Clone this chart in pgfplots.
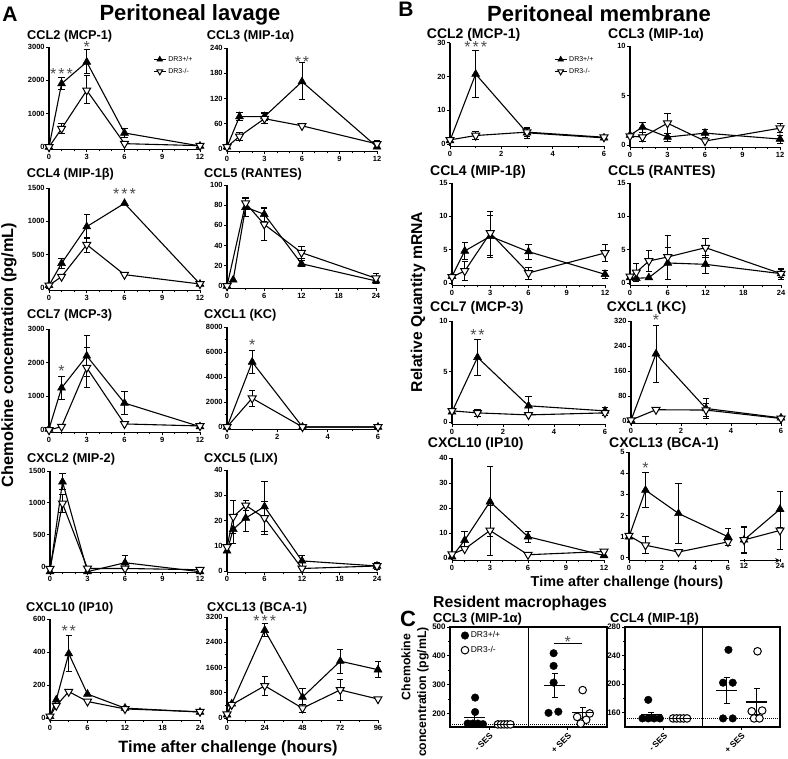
\documentclass[border=0pt]{standalone}
\usepackage{fontspec}
\setmainfont{Liberation Sans}
\usepackage{pgfplots}
\pgfplotsset{compat=1.18}
\pgfplotsset{
 tp/.style={scale only axis, axis lines=left, axis line style={-, line width=1.1pt},
  tick align=outside, major tick length=3pt, minor tick length=1.8pt,
  tick style={black, line width=0.9pt},
  tick label style={font=\bfseries\fontsize{7.5}{8}\selectfont, inner sep=1.2pt},
  /pgf/number format/assume math mode=true, /pgf/number format/1000 sep={},
  scaled ticks=false, clip=false, anchor=south west,
  legend image code/.code={\draw[mark repeat=2, mark phase=2, #1, mark size=3.3pt] plot coordinates {(0pt,0pt) (6pt,0pt) (12pt,0pt)};},
  legend cell align=left},
 F/.style={black, line width=1.1pt, mark=triangle*, mark size=4.6pt, mark options={fill=black, line width=0.5pt},
   error bars/.cd, y dir=both, y explicit, error bar style={line width=0.9pt}, error mark options={rotate=90, line width=0.9pt, mark size=3.2pt}},
 O/.style={black, line width=1.1pt, mark=triangle*, mark size=4.6pt, mark options={fill=white, rotate=180, line width=1pt},
   error bars/.cd, y dir=both, y explicit, error bar style={line width=0.9pt}, error mark options={rotate=90, line width=0.9pt, mark size=3.2pt}},
 lg/.style={legend style={draw=none, fill=none, at={#1}, anchor=north west, inner sep=0pt, font=\fontsize{7}{8}\selectfont, row sep=1.5pt}},
}
\newcommand{\sx}{\hspace{2pt}}
\newcommand{\st}[3]{\node[anchor=base, yshift=-9.6pt, font=\fontsize{16}{16}\selectfont, text=black!70, inner sep=0pt] at (axis cs:#1,#2) {#3};}
\newcommand{\ttl}[4]{\node[anchor=base west, inner sep=0pt, font=\bfseries\fontsize{#3}{#3}\selectfont] at (#1pt,#2pt) {#4};}
\begin{document}
\begin{tikzpicture}
\useasboundingbox (0pt,0pt) rectangle (788pt,759pt);
% ---------------- headings
\node[anchor=base, inner sep=0pt, font=\bfseries\fontsize{21}{21}\selectfont] at (10pt,737.3pt) {A};
\node[anchor=base, inner sep=0pt, font=\bfseries\fontsize{22}{22}\selectfont] at (190pt,738.3pt) {Peritoneal lavage};
\node[anchor=base, inner sep=0pt, font=\bfseries\fontsize{21}{21}\selectfont] at (406pt,742.3pt) {B};
\node[anchor=base, inner sep=0pt, font=\bfseries\fontsize{22}{22}\selectfont] at (599pt,737.3pt) {Peritoneal membrane};
\node[anchor=base west, inner sep=0pt, font=\bfseries\fontsize{22}{22}\selectfont] at (400pt,132pt) {C};
\ttl{433}{151.7}{15.8}{Resident macrophages}
\node[rotate=90, inner sep=0pt, font=\bfseries\fontsize{16.3}{16.3}\selectfont] at (9pt,404pt) {Chemokine concentration (pg/mL)};
\node[rotate=90, inner sep=0pt, font=\bfseries\fontsize{15.7}{15.7}\selectfont] at (418pt,457pt) {Relative Quantity mRNA};
\node[anchor=base, inner sep=0pt, font=\bfseries\fontsize{16.4}{16.4}\selectfont] at (228pt,6pt) {Time after challenge (hours)};
\node[anchor=base, inner sep=0pt, font=\bfseries\fontsize{14.4}{14.4}\selectfont] at (627pt,172.3pt) {Time after challenge (hours)};
\node[rotate=90, inner sep=0pt, font=\bfseries\fontsize{12.3}{12.3}\selectfont] at (406pt,92pt) {Chemokine};
\node[rotate=90, inner sep=0pt, font=\bfseries\fontsize{12.3}{12.3}\selectfont] at (423pt,67pt) {concentration (pg/mL)};
% titles
\ttl{27}{719}{12.75}{CCL2 (MCP-1)}
\ttl{206.7}{719}{12.75}{CCL3 (MIP-1α)}
\ttl{26.7}{581}{12.75}{CCL4 (MIP-1β)}
\ttl{204}{581}{12.75}{CCL5 (RANTES)}
\ttl{27}{440}{12.75}{CCL7 (MCP-3)}
\ttl{204}{440}{12.75}{CXCL1 (KC)}
\ttl{27}{296}{12.75}{CXCL2 (MIP-2)}
\ttl{204}{296}{12.75}{CXCL5 (LIX)}
\ttl{26}{147}{12.75}{CXCL10 (IP10)}
\ttl{207}{147}{12.75}{CXCL13 (BCA-1)}
\ttl{426.7}{720.7}{14}{CCL2 (MCP-1)}
\ttl{608}{720.7}{14}{CCL3 (MIP-1α)}
\ttl{430}{583.3}{14}{CCL4 (MIP-1β)}
\ttl{608}{583.3}{14}{CCL5 (RANTES)}
\ttl{430}{447.3}{14}{CCL7 (MCP-3)}
\ttl{606.7}{447.3}{14}{CXCL1 (KC)}
\ttl{427.7}{311.5}{14}{CXCL10 (IP10)}
\ttl{609}{311.5}{14}{CXCL13 (BCA-1)}
\ttl{433}{136}{13}{CCL3 (MIP-1α)}
\ttl{610}{136}{13}{CCL4 (MIP-1β)}
% ================= PANEL A
\begin{axis}[tp, at={(49pt,609.5pt)}, width=151pt, height=102.5pt, xmin=0, xmax=12, ymin=-75, ymax=3000,
  xtick={0,3,6,9,12}, minor x tick num=2, ytick={0,1000,2000,3000}, lg={(0.689,0.932)}]
\addplot[F] coordinates {(0,0) (1,1900) +- (0,180) (3,2550) += (0,370) -= (0,350) (6,420) +- (0,140) (12,30)};
\addlegendentry{DR3+/+}
\addplot[O] coordinates {(0,0) (1,550) +- (0,150) (3,1700) += (0,450) -= (0,400) (6,100) (12,40)};
\addlegendentry{DR3-/-}
\st{1}{2300}{*\sx*\sx*}\st{3}{3120}{*}
\end{axis}
\begin{axis}[tp, at={(227pt,607.5pt)}, width=150pt, height=103.5pt, xmin=0, xmax=12, ymin=-6, ymax=240,
  xtick={0,3,6,9,12}, minor x tick num=2, ytick={0,60,120,180,240}]
\addplot[F] coordinates {(0,5) (1,77) +- (0,9) (3,77) +- (0,10) (6,160) += (0,45) -= (0,43) (12,5)};
\addplot[O] coordinates {(0,5) (1,30) +- (0,10) (3,72) +- (0,12) (6,55) (12,12) +- (0,8)};
\st{6}{216}{*\sx*}
\end{axis}
\begin{axis}[tp, at={(49pt,468.5pt)}, width=151pt, height=102.5pt, xmin=0, xmax=12, ymin=-37.5, ymax=1500,
  xtick={0,3,6,9,12}, minor x tick num=2, ytick={0,500,1000,1500}]
\addplot[F] coordinates {(0,40) (1,370) +- (0,75) (3,920) +- (0,180) (6,1270) (12,60)};
\addplot[O] coordinates {(0,40) (1,170) (3,650) +- (0,110) (6,200) (12,60)};
\st{6}{1470}{*\sx*\sx*}
\end{axis}
\begin{axis}[tp, at={(227pt,470.5pt)}, width=149pt, height=103.5pt, xmin=0, xmax=24, ymin=-2.5, ymax=100,
  xtick={0,6,12,18,24}, minor x tick num=1, ytick={0,20,40,60,80,100}]
\addplot[F] coordinates {(0,0) (1,6) (3,78) +- (0,9) (6,71) +- (0,7) (12,22) +- (0,3) (24,5)};
\addplot[O] coordinates {(0,0) (3,82) +- (0,6) (6,61) +- (0,16) (12,33) +- (0,6) (24,7.6) +- (0,5)};
\end{axis}
\begin{axis}[tp, at={(49pt,326.5pt)}, width=151pt, height=103.5pt, xmin=0, xmax=12, ymin=-74, ymax=3000,
  xtick={0,3,6,9,12}, minor x tick num=2, ytick={0,1000,2000,3000}]
\addplot[F] coordinates {(0,30) (1,1250) +- (0,350) (3,2200) +- (0,620) (6,800) +- (0,340) (12,100)};
\addplot[O] coordinates {(0,0) (1,100) (3,1850) +- (0,590) (6,180) (12,120)};
\st{1}{1880}{*}
\end{axis}
\begin{axis}[tp, at={(227pt,329.5pt)}, width=151pt, height=102.5pt, xmin=0, xmax=6, ymin=-200, ymax=8000,
  xtick={0,2,4,6}, minor x tick num=1, ytick={0,2000,4000,6000,8000}, minor y tick num=1]
\addplot[F] coordinates {(0,0) (1,5200) +- (0,950) (3,0) (6,0)};
\addplot[O] coordinates {(0,0) (1,2300) +- (0,620) (3,0) (6,0)};
\st{1}{6850}{*}
\end{axis}
\begin{axis}[tp, at={(50pt,186.7pt)}, width=150pt, height=101.3pt, xmin=0, xmax=12, ymin=-90, ymax=1500,
  xtick={0,3,6,9,12}, minor x tick num=2, ytick={0,500,1000,1500}]
\addplot[F] coordinates {(0,-80) (1,1330) +- (0,125) (3,-80) (6,60) +- (0,110) (12,-80)};
\addplot[O] coordinates {(0,-35) (1,990) +- (0,140) (3,-30) (6,-30) (12,-50)};
\end{axis}
\begin{axis}[tp, at={(227pt,186.7pt)}, width=150pt, height=102.3pt, xmin=0, xmax=24, ymin=-0.5, ymax=40,
  xtick={0,6,12,18,24}, minor x tick num=1, ytick={0,10,20,30,40}]
\addplot[F] coordinates {(0,8) (1,16.5) +- (0,5.5) (3,21) +- (0,5.5) (6,25.5) +- (0,10) (12,4) +- (0,2.3) (24,2)};
\addplot[O] coordinates {(0,9.5) (1,21.5) +- (0,6.5) (3,26) +- (0,2) (6,21) +- (0,6.5) (12,1) (24,2) +- (0,1.3)};
\end{axis}
\begin{axis}[tp, at={(50pt,38.5pt)}, width=150pt, height=101.5pt, xmin=0, xmax=24, ymin=-15, ymax=600,
  xtick={0,6,12,18,24}, minor x tick num=1, ytick={0,200,400,600}]
\addplot[F] coordinates {(0,10) (1,110) (3,390) +- (0,110) (6,145) (12,60) (24,36)};
\addplot[O] coordinates {(0,10) (1,75) (3,160) (6,100) (12,55) (24,38)};
\st{3}{553}{*\sx*}
\end{axis}
\begin{axis}[tp, at={(227pt,38.5pt)}, width=151pt, height=103.5pt, xmin=0, xmax=96, ymin=-79, ymax=3200,
  xtick={0,24,48,72,96}, minor x tick num=1, ytick={0,800,1600,2400,3200}, minor y tick num=1]
\addplot[F] coordinates {(0,100) (3,450) (24,2780) +- (0,200) (48,660) +- (0,280) (72,1800) +- (0,380) (96,1530) +- (0,260)};
\addplot[O] coordinates {(0,120) (3,420) (24,1020) +- (0,310) (48,310) +- (0,120) (72,890) +- (0,330) (96,600)};
\st{24}{3190}{*\sx*\sx*}
\end{axis}
% ================= PANEL B
\begin{axis}[tp, at={(450pt,612.5pt)}, width=154pt, height=103.8pt, xmin=0, xmax=6, ymin=-0.75, ymax=30,
  xtick={0,2,4,6}, minor x tick num=1, ytick={0,10,20,30}, lg={(0.675,0.891)}]
\addplot[F] coordinates {(0,1) (1,20.7) +- (0,6.9) (3,3.3) +- (0,1.6) (6,1.8)};
\addlegendentry{DR3+/+}
\addplot[O] coordinates {(0,1.2) (1,2.5) +- (0,1.3) (3,3.5) +- (0,1.2) (6,2) +- (0,0.5)};
\addlegendentry{DR3-/-}
\st{1}{29.8}{*\sx*\sx*}
\end{axis}
\begin{axis}[tp, at={(630pt,611.5pt)}, width=150pt, height=101.5pt, xmin=0, xmax=12, ymin=-0.25, ymax=10,
  xtick={0,3,6,9,12}, minor x tick num=2, ytick={0,5,10}]
\addplot[F] coordinates {(0,1) (1,1.8) +- (0,0.5) (3,0.8) +- (0,0.4) (6,1.2) +- (0,0.4) (12,0.6) +- (0,0.4)};
\addplot[O] coordinates {(0,0.9) (1,0.8) +- (0,0.45) (3,2.2) +- (0,1) (6,0.4) (12,1.7) +- (0,0.45)};
\end{axis}
\begin{axis}[tp, at={(452pt,473.5pt)}, width=153pt, height=102.5pt, xmin=0, xmax=12, ymin=-0.375, ymax=15,
  xtick={0,3,6,9,12}, minor x tick num=2, ytick={0,5,10,15}]
\addplot[F] coordinates {(0,1) (1,4.8) +- (0,1.3) (3,7) +- (0,3.2) (6,4.7) +- (0,1.1) (12,1.3) +- (0,0.6)};
\addplot[O] coordinates {(0,0.9) (1,1.8) +- (0,1.4) (3,7.5) +- (0,3.3) (6,1.5) +- (0,0.9) (12,4.5) +- (0,1.3)};
\end{axis}
\begin{axis}[tp, at={(630pt,473.5pt)}, width=151pt, height=102.5pt, xmin=0, xmax=24, ymin=-0.375, ymax=15,
  xtick={0,6,12,18,24}, minor x tick num=1, ytick={0,5,10,15}]
\addplot[F] coordinates {(0,0.8) (1,0.7) (3,0.8) (6,3) +- (0,2.4) (12,2.8) +- (0,1.3) (24,1.4) +- (0,0.6)};
\addplot[O] coordinates {(0,1) (1,1.6) +- (0,1.3) (3,3.3) +- (0,1.6) (6,3.9) +- (0,3.3) (12,5.3) +- (0,1.4) (24,1.4) +- (0,0.8)};
\end{axis}
\begin{axis}[tp, at={(452pt,334.5pt)}, width=153pt, height=103.5pt, xmin=0, xmax=6, ymin=-0.25, ymax=10,
  xtick={0,2,4,6}, minor x tick num=1, ytick={0,5,10}]
\addplot[F] coordinates {(0,1) (1,6.4) +- (0,1.8) (3,1.6) +- (0,0.9) (6,1.1) +- (0,0.3)};
\addplot[O] coordinates {(0,1.1) (1,0.9) +- (0,0.35) (3,0.7) (6,0.9) +- (0,0.25)};
\st{1}{9.0}{*\sx*}
\end{axis}
\begin{axis}[tp, at={(631pt,335.5pt)}, width=150pt, height=102.5pt, xmin=0, xmax=6, ymin=-8, ymax=320,
  xtick={0,2,4,6}, minor x tick num=1, ytick={0,80,160,240,320}]
\addplot[F] coordinates {(0,2) (1,215) +- (0,92) (3,40) +- (0,32) (6,10)};
\addplot[O] coordinates {(0,3) (1,36) (3,35) +- (0,22) (6,8)};
\st{1}{336}{*}
\end{axis}
\begin{axis}[tp, at={(452pt,198.5pt)}, width=152pt, height=102.5pt, xmin=0, xmax=12, ymin=-1, ymax=40,
  xtick={0,3,6,9,12}, minor x tick num=2, ytick={0,10,20,30,40}]
\addplot[F] coordinates {(0,0.5) (1,7.1) +- (0,3.4) (3,22.5) +- (0,14) (6,8.5) +- (0,2.2) (12,1)};
\addplot[O] coordinates {(0,1.5) (1,3.6) (3,11) +- (0,10) (6,1.3) (12,2.6)};
\end{axis}
\begin{axis}[tp, at={(629pt,198.5pt)}, width=99pt, height=108.5pt, xmin=0, xmax=6, ymin=-0.12, ymax=5,
  xtick={0,2,4,6}, minor x tick num=1, ytick={0,1,2,3,4,5}]
\addplot[F] coordinates {(0,1) (1,3.2) +- (0,0.82) (3,2.1) +- (0,1.4) (6,1.0) +- (0,0.4)};
\addplot[O] coordinates {(0,1.05) (1,0.6) +- (0,0.4) (3,0.28) (6,0.76) +- (0,0.15)};
\st{1}{4.45}{*}
\end{axis}
\begin{axis}[tp, axis x line=bottom, axis y line=none, at={(740pt,198.5pt)}, width=40pt, height=108.5pt, xmin=10.67, xmax=24, ymin=-0.12, ymax=5,
  xtick={12,24}, ytick=\empty]
\addplot[F] coordinates {(12,0.85) +- (0,0.6) (24,2.3) +- (0,0.85)};
\addplot[O] coordinates {(12,0.85) +- (0,0.65) (24,1.3) +- (0,0.9)};
\end{axis}
% ================= PANEL C
\pgfplotsset{
 cp/.style={scale only axis, axis lines=box, axis line style={line width=1.1pt}, tick align=outside,
  major tick length=3pt, minor tick length=1.8pt, tick style={black, line width=0.9pt},
  xtick pos=bottom, ytick pos=left, clip=false, anchor=south west,
  tick label style={font=\bfseries\fontsize{8}{9}\selectfont, inner sep=1.2pt},
  /pgf/number format/assume math mode=true, xmin=0, xmax=4, xtick={1,3}, xticklabels={- SES,+ SES},
  x tick label style={rotate=45, anchor=north east, font=\bfseries\fontsize{8.5}{9}\selectfont},
  minor y tick num=1},
 mm/.style={black, only marks, mark=-, mark size=10.5pt, mark options={line width=1.1pt},
   error bars/.cd, y dir=both, y explicit, error bar style={line width=0.9pt}, error mark options={rotate=90, line width=0.9pt, mark size=3pt}},
}
\begin{axis}[cp, at={(450pt,32pt)}, width=157pt, height=100pt, ymin=153, ymax=500, ytick={200,300,400,500},
  legend style={draw=none, fill=none, at={(0.07,0.975)}, anchor=north west, inner sep=0pt, font=\fontsize{8.5}{9}\selectfont, row sep=3pt},
  legend image code/.code={\draw[#1] plot coordinates {(4pt,0pt)};}, legend cell align=left]
\addplot[black, only marks, mark=*, mark size=3.8pt] coordinates {(0.64,255) (0.64,205) (0.45,165) (0.58,165) (0.71,165) (0.84,163) (2.64,409) (2.64,365) (2.64,307) (2.51,202) (2.76,206)};
\addlegendentry{DR3+/+}
\addplot[black, only marks, mark=*, mark size=3.8pt, mark options={fill=white, line width=1pt}] coordinates {(1.22,162) (1.3,162) (1.38,162) (1.46,162) (1.54,162) (3.38,281) (3.56,200) (3.24,188) (3.47,178) (3.33,165)};
\addlegendentry{DR3-/-}
\addplot[forget plot, black, densely dotted, line width=1pt] coordinates {(0,162) (4,162)};
\addplot[forget plot, black, line width=1.1pt] coordinates {(2,153) (2,500)};
\addplot[forget plot, mm] coordinates {(0.625,186) += (0,17) -= (0,14) (1.38,162) +- (0,1) (2.67,297) += (0,43) -= (0,42) (3.38,202) +- (0,19)};
\addplot[forget plot, black, line width=1pt] coordinates {(2.64,444) (3.36,444)};
\st{3}{462}{*}
\end{axis}
\begin{axis}[cp, at={(625pt,32pt)}, width=155pt, height=100pt, ymin=140, ymax=280, ytick={160,200,240,280}]
\addplot[black, only marks, mark=*, mark size=3.8pt] coordinates {(0.6,178) (0.45,152) (0.6,152) (0.75,152) (0.9,152) (2.67,248) (2.53,202) (2.78,202) (2.53,152) (2.78,152)};
\addplot[black, only marks, mark=*, mark size=3.8pt, mark options={fill=white, line width=1pt}] coordinates {(1.24,152) (1.33,152) (1.42,152) (1.51,152) (1.6,152) (3.42,246) (3.27,162) (3.54,163) (3.33,152) (3.47,152)};
\addplot[black, densely dotted, line width=1pt] coordinates {(0,152) (4,152)};
\addplot[black, line width=1.1pt] coordinates {(2,140) (2,280)};
\addplot[mm] coordinates {(0.68,157) += (0,4) -= (0,3) (1.42,152) +- (0,0.5) (2.62,191) +- (0,18) (3.4,175) += (0,19) -= (0,18)};
\end{axis}
\end{tikzpicture}
\end{document}
